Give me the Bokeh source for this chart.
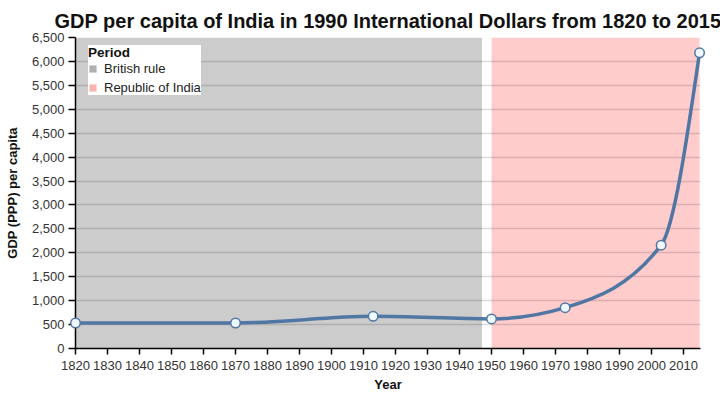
import numpy as np
from bokeh.plotting import figure
from bokeh.models import (Range1d, FixedTicker, NumeralTickFormatter, Legend, LegendItem, ColumnDataSource)
from bokeh.embed import file_html
from bokeh.resources import INLINE

# ---- data ----
years = [1820, 1870, 1913, 1950, 1973, 2003, 2015]
gdp = [533, 533, 673, 619, 853, 2160, 6180]

periods = ["British rule", "Republic of India"]
period_start = [1820, 1950]
period_end = [1947, 2015]
period_colors = ["#cccccc", "#ffcccc"]
legend_colors = ["#b0b0b0", "#f8b4b4"]

x_ticks = list(range(1820, 2011, 10))
y_ticks = list(range(0, 6501, 500))

LINE = "#5076a4"
FONT = "Liberation Sans"

p = figure(width=720, height=394, output_backend="svg", toolbar_location=None,
           x_range=Range1d(1820, 2015.3), y_range=Range1d(0, 6500),
           min_border_left=75, min_border_right=20, min_border_top=37, min_border_bottom=45,
           title="GDP per capita of India in 1990 International Dollars from 1820 to 2015")
p.outline_line_color = None
p.background_fill_color = "white"

p.title.align = "center"
p.title.text_font = FONT
p.title.text_font_size = "20px"
p.title.text_font_style = "bold"
p.title.text_color = "#111111"
p.title.offset = 0
p.title.standoff = 11

# period bands
bands = ColumnDataSource(dict(left=period_start, right=period_end,
                              bottom=[0, 0], top=[6500, 6500], color=period_colors))
p.quad(left="left", right="right", bottom="bottom", top="top", fill_color="color",
       line_color=None, source=bands)

# grid on top of bands
p.xgrid.visible = False
p.ygrid.ticker = FixedTicker(ticks=y_ticks)
p.ygrid.grid_line_color = "#000000"
p.ygrid.grid_line_alpha = 0.14
p.ygrid.grid_line_width = 1.5
p.ygrid.level = "guide"

# smooth monotone (d3 monotoneX-like) curve drawn with bezier segments
xs = np.array(years, dtype=float)
ys = np.array(gdp, dtype=float)
n = len(xs)
def sgn(v):
    return -1.0 if v < 0 else 1.0
t = np.zeros(n)
for i in range(1, n - 1):
    h0 = xs[i] - xs[i - 1]; h1 = xs[i + 1] - xs[i]
    s0 = (ys[i] - ys[i - 1]) / h0; s1 = (ys[i + 1] - ys[i]) / h1
    pp = (s0 * h1 + s1 * h0) / (h0 + h1)
    t[i] = (sgn(s0) + sgn(s1)) * min(abs(s0), abs(s1), 0.5 * abs(pp))
t[0] = (3 * (ys[1] - ys[0]) / (xs[1] - xs[0]) - t[1]) / 2
t[-1] = (3 * (ys[-1] - ys[-2]) / (xs[-1] - xs[-2]) - t[-2]) / 2
dx = (xs[1:] - xs[:-1]) / 3.0
bz = p.bezier(x0=xs[:-1], y0=ys[:-1], x1=xs[1:], y1=ys[1:],
              cx0=xs[:-1] + dx, cy0=ys[:-1] + dx * t[:-1],
              cx1=xs[1:] - dx, cy1=ys[1:] - dx * t[1:],
              line_color=LINE, line_width=3.5, line_cap="round")
bz.level = "annotation"
pts = p.scatter(years, gdp, size=9.5, fill_color="#f0f8ff", line_color=LINE, line_width=1.5)
pts.level = "annotation"

# axes
for ax in (p.xaxis[0], p.yaxis[0]):
    ax.axis_line_color = "black"
    ax.axis_line_width = 1.5
    ax.major_tick_line_color = "black"
    ax.major_tick_line_width = 1.5
    ax.major_tick_in = 0
    ax.major_tick_out = 6
    ax.minor_tick_line_color = None
    ax.major_label_text_font = FONT
    ax.major_label_text_font_size = "13px"
    ax.major_label_text_color = "#333333"
    ax.axis_label_text_font = FONT
    ax.axis_label_text_font_size = "13px"
    ax.axis_label_text_font_style = "bold"
    ax.axis_label_text_color = "#111111"

p.xaxis.ticker = FixedTicker(ticks=x_ticks)
p.xaxis.axis_label = "Year"
p.xaxis.major_label_standoff = 6
p.xaxis.axis_label_standoff = 4
p.yaxis.ticker = FixedTicker(ticks=y_ticks)
p.yaxis.formatter = NumeralTickFormatter(format="0,0")
p.yaxis.axis_label = "GDP (PPP) per capita"
p.yaxis.major_tick_out = 7
p.yaxis.major_label_standoff = 4
p.yaxis.axis_label_standoff = 9

# legend with swatches
items = []
for lab, col in zip(periods, legend_colors):
    r = p.quad(left=[np.nan], right=[np.nan], bottom=[np.nan], top=[np.nan],
               fill_color=col, line_color=None)
    items.append(LegendItem(label=lab, renderers=[r]))
legend = Legend(items=items, title="Period", location=(13, 253))
legend.title_text_font = FONT
legend.title_text_font_size = "13.5px"
legend.title_text_font_style = "bold"
legend.title_text_color = "#111111"
legend.title_standoff = 1
legend.label_text_font = FONT
legend.label_text_font_size = "13px"
legend.label_text_color = "#222222"
legend.glyph_width = 9
legend.glyph_height = 9
legend.label_height = 15
legend.label_standoff = 7
legend.spacing = 4
legend.padding = 4
legend.margin = 0
legend.border_line_color = None
legend.background_fill_color = "white"
legend.background_fill_alpha = 1.0
p.add_layout(legend, "center")

open("out.html", "w").write(file_html(p, INLINE))
